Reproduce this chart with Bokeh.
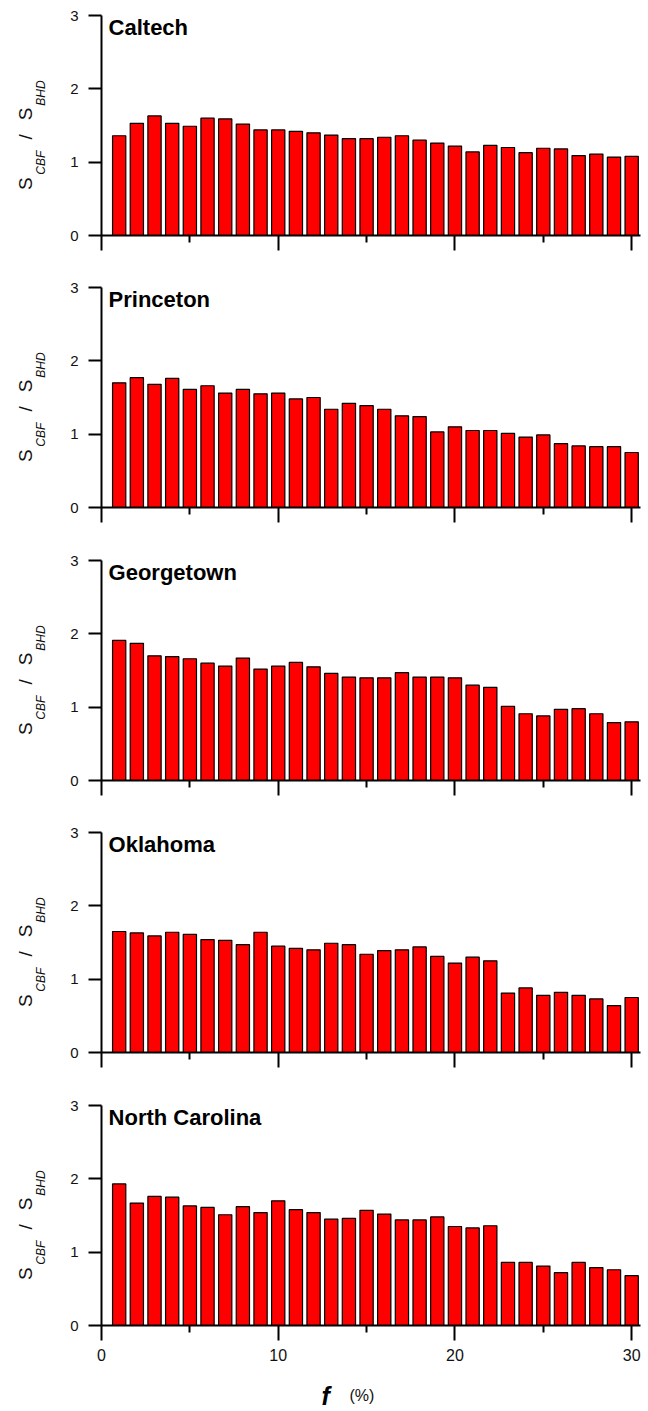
import math
from bokeh.plotting import figure
from bokeh.layouts import column, row
from bokeh.models import FixedTicker, Label, Range1d
from bokeh.core.properties import value
from bokeh.embed import file_html
from bokeh.resources import INLINE

f_vals = list(range(1, 31))

caltech = [1.36, 1.53, 1.63, 1.53, 1.49, 1.60, 1.59, 1.52, 1.44, 1.44,
           1.42, 1.40, 1.37, 1.32, 1.32, 1.34, 1.36, 1.30, 1.26, 1.22,
           1.14, 1.23, 1.20, 1.13, 1.19, 1.18, 1.09, 1.11, 1.07, 1.08]
princeton = [1.70, 1.77, 1.68, 1.76, 1.61, 1.66, 1.56, 1.61, 1.55, 1.56,
             1.48, 1.50, 1.34, 1.42, 1.39, 1.34, 1.25, 1.24, 1.03, 1.10,
             1.05, 1.05, 1.01, 0.96, 0.99, 0.87, 0.84, 0.83, 0.83, 0.75]
georgetown = [1.91, 1.87, 1.70, 1.69, 1.66, 1.60, 1.56, 1.67, 1.52, 1.56,
              1.61, 1.55, 1.46, 1.41, 1.40, 1.40, 1.47, 1.41, 1.41, 1.40,
              1.30, 1.27, 1.01, 0.91, 0.88, 0.97, 0.98, 0.91, 0.79, 0.80]
oklahoma = [1.65, 1.63, 1.59, 1.64, 1.61, 1.54, 1.53, 1.47, 1.64, 1.45,
            1.42, 1.40, 1.49, 1.47, 1.34, 1.39, 1.40, 1.44, 1.31, 1.22,
            1.30, 1.25, 0.81, 0.88, 0.78, 0.82, 0.78, 0.73, 0.64, 0.75]
north_carolina = [1.93, 1.67, 1.76, 1.75, 1.63, 1.61, 1.51, 1.62, 1.54, 1.70,
                  1.58, 1.54, 1.45, 1.46, 1.57, 1.52, 1.44, 1.44, 1.48, 1.35,
                  1.33, 1.36, 0.86, 0.86, 0.81, 0.72, 0.86, 0.79, 0.76, 0.68]

names = ["Caltech", "Princeton", "Georgetown", "Oklahoma", "North Carolina"]
series = [caltech, princeton, georgetown, oklahoma, north_carolina]

x_ticks = [0, 10, 20, 30]
x_minor = [5, 15, 25]
y_ticks = [0, 1, 2, 3]

# y-label pieces: (text, size, style)
ylabel_parts = [("S", "19px", "normal"), ("CBF", "12px", "italic"),
                ("/", "19px", "normal"), ("S", "19px", "normal"),
                ("BHD", "12px", "italic")]

FONT = "Liberation Sans"
tops = [15, 7, 7, 7, 7]
bottoms = [45, 46, 45, 46, 43]
LAB_W = 56
FRAME_H = 220
FRAME_W = 539
TOTAL_W = 644

rows = []
for i, (name, vals) in enumerate(zip(names, series)):
    last = i == len(names) - 1

    # side figure holding the rotated y-axis label
    lab = figure(frame_width=LAB_W, frame_height=FRAME_H,
                 x_range=Range1d(0, LAB_W), y_range=Range1d(0, 3),
                 min_border_left=0, min_border_right=0,
                 min_border_top=tops[i], min_border_bottom=bottoms[i],
                 x_axis_type=None, y_axis_type=None,
                 output_backend="svg", toolbar_location=None)
    lab.outline_line_color = None
    lab.grid.visible = False
    # positions: baseline x (px), start y (data)
    pos = [(25, 0.62), (40, 0.83), (25, 1.31), (25, 1.57), (40, 1.77)]
    for (txt, size, style), (bx, sy) in zip(ylabel_parts, pos):
        lab.text(x=[bx], y=[sy], text=[txt], angle=math.pi / 2,
                 text_font=value(FONT), text_font_size=size,
                 text_font_style=style, text_color="#111111",
                 text_align="left", text_baseline="alphabetic")

    p = figure(frame_width=FRAME_W, frame_height=FRAME_H,
               x_range=Range1d(0, 30.5), y_range=Range1d(0, 3),
               min_border_left=TOTAL_W - LAB_W - FRAME_W - 4,
               min_border_right=4,
               min_border_top=tops[i], min_border_bottom=bottoms[i],
               output_backend="svg", toolbar_location=None,
               background_fill_color="white", border_fill_color="white")
    p.outline_line_color = None
    p.grid.visible = False

    p.vbar(x=f_vals, top=vals, bottom=0, width=0.75,
           fill_color="#FF0000", line_color="black", line_width=1.2)

    xa = p.xaxis[0]
    xa.ticker = FixedTicker(ticks=x_ticks, minor_ticks=x_minor)
    xa.axis_line_width = 2
    xa.axis_line_color = "black"
    xa.major_tick_line_width = 2
    xa.major_tick_line_color = "black"
    xa.major_tick_out = 15
    xa.major_tick_in = 0
    xa.minor_tick_line_width = 2
    xa.minor_tick_line_color = "black"
    xa.minor_tick_out = 7
    xa.minor_tick_in = 0
    xa.major_label_text_font = FONT
    xa.major_label_text_font_size = "16px"
    xa.major_label_text_color = "#111111"
    xa.major_label_standoff = 8
    if not last:
        xa.major_label_overrides = {0: "", 10: "", 20: "", 30: ""}

    ya = p.yaxis[0]
    ya.ticker = FixedTicker(ticks=y_ticks, minor_ticks=[])
    ya.axis_line_width = 2
    ya.axis_line_color = "black"
    ya.major_tick_line_width = 2
    ya.major_tick_line_color = "black"
    ya.major_tick_out = 13
    ya.major_tick_in = 0
    ya.minor_tick_line_color = None
    ya.major_label_text_font = FONT
    ya.major_label_text_font_size = "15px"
    ya.major_label_text_color = "#111111"
    ya.major_label_standoff = 10

    p.add_layout(Label(x=0.4, y=2.84, text=name, text_font=FONT,
                       text_font_size="22px", text_font_style="bold",
                       text_color="black", text_baseline="alphabetic",
                       text_align="left"))
    rows.append(row(lab, p, spacing=0))

# x-axis title strip
XL_H = 40
xl = figure(frame_width=TOTAL_W, frame_height=XL_H,
            x_range=Range1d(0, TOTAL_W), y_range=Range1d(0, XL_H),
            min_border_left=0, min_border_right=0, min_border_top=0,
            min_border_bottom=0, x_axis_type=None, y_axis_type=None,
            output_backend="svg", toolbar_location=None)
xl.outline_line_color = None
xl.grid.visible = False
xl.text(x=[321], y=[13], text=["f"], text_font=value(FONT),
        text_font_size="25px", text_font_style="bold italic",
        text_color="black", text_align="left", text_baseline="alphabetic")
xl.text(x=[349], y=[13], text=["(%)"], text_font=value(FONT),
        text_font_size="16px", text_font_style="normal", text_color="#111111",
        text_align="left", text_baseline="alphabetic")
rows.append(xl)

layout = column(*rows, spacing=0)
open("out.html", "w").write(file_html(layout, INLINE))
